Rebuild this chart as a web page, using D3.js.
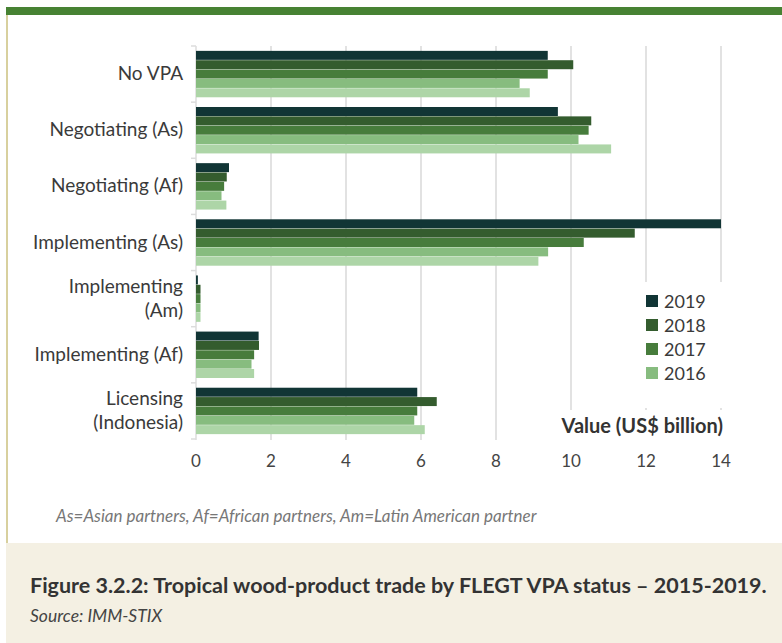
<!DOCTYPE html>
<html>
<head>
<meta charset="utf-8">
<script src="https://cdn.jsdelivr.net/npm/d3@7"></script>
<style>
  body { margin: 0; background: #fff; }
  svg text { font-family: Lato, "Open Sans", sans-serif; }
</style>
</head>
<body>
<div id="mainContainer"><svg></svg></div>
<script>
const SVG_WIDTH = 782;
const SVG_HEIGHT = 643;

// Chart data
const categories = [
    ["No VPA"],
    ["Negotiating (As)"],
    ["Negotiating (Af)"],
    ["Implementing (As)"],
    ["Implementing", "(Am)"],
    ["Implementing (Af)"],
    ["Licensing", "(Indonesia)"]
];
const years = ["2019", "2018", "2017", "2016", "2015"];
const legendYears = ["2019", "2018", "2017", "2016"];
const values2019 = [9.38, 9.65, 0.88, 14.0, 0.05, 1.67, 5.90];
const values2018 = [10.06, 10.54, 0.82, 11.70, 0.12, 1.68, 6.42];
const values2017 = [9.38, 10.47, 0.75, 10.34, 0.12, 1.55, 5.90];
const values2016 = [8.63, 10.20, 0.68, 9.39, 0.12, 1.48, 5.82];
const values2015 = [8.90, 11.07, 0.81, 9.13, 0.12, 1.55, 6.10];
const xTicks = [0, 2, 4, 6, 8, 10, 12, 14];

const seriesValues = [values2019, values2018, values2017, values2016, values2015];
const colors = ["#113535", "#345c2e", "#477c3c", "#87bc7f", "#add5a7"];

const catKeys = categories.map(c => c.join(" "));
const rows = [];
catKeys.forEach((key, i) => {
    years.forEach((yr, j) => {
        rows.push({ cat: key, year: yr, value: seriesValues[j][i] });
    });
});

let svg = d3.select("#mainContainer").select("svg")
    .attr("width", SVG_WIDTH)
    .attr("height", SVG_HEIGHT);

// frame: top green band, left rule, beige footer
svg.append("rect").attr("x", 6).attr("y", 7).attr("width", SVG_WIDTH - 6).attr("height", 8).attr("fill", "#478233");
svg.append("rect").attr("x", 6).attr("y", 15).attr("width", 2).attr("height", 528).attr("fill", "#d8d09e");
svg.append("rect").attr("x", 6).attr("y", 543).attr("width", SVG_WIDTH - 6).attr("height", 100).attr("fill", "#f4f0e3");

const x = d3.scaleLinear().domain([0, 14]).range([196, 721]);
const y = d3.scaleBand().domain(catKeys).range([46, 439]).paddingInner(0.16).paddingOuter(0.08);
const yInner = d3.scaleBand().domain(years).range([0, y.bandwidth()]).padding(0.04);
const color = d3.scaleOrdinal().domain(years).range(colors);

// grid
svg.append("g").selectAll("line")
    .data(xTicks.slice(1))
    .enter().append("line")
    .attr("x1", d => x(d)).attr("x2", d => x(d))
    .attr("y1", 46).attr("y2", 440)
    .attr("stroke", "#e2e2e2").attr("stroke-width", 2);

// y axis line and boundary ticks
const step = y.step();
const boundaries = d3.range(catKeys.length + 1).map(i => 46 + i * step);
svg.append("line").attr("x1", 196).attr("x2", 196).attr("y1", 46).attr("y2", 440)
    .attr("stroke", "#dcdcdc").attr("stroke-width", 1.5);
svg.append("g").selectAll("line")
    .data(boundaries)
    .enter().append("line")
    .attr("x1", 191).attr("x2", 196)
    .attr("y1", d => d).attr("y2", d => d)
    .attr("stroke", "#dcdcdc").attr("stroke-width", 1.5);

// bars
svg.append("g").selectAll("rect")
    .data(rows)
    .enter().append("rect")
    .attr("x", x(0))
    .attr("y", d => y(d.cat) + yInner(d.year))
    .attr("width", d => x(d.value) - x(0))
    .attr("height", yInner.bandwidth())
    .attr("fill", d => color(d.year));

// category labels
svg.append("g").selectAll("text")
    .data(categories)
    .enter().append("text")
    .attr("text-anchor", "end")
    .attr("font-size", 19)
    .attr("fill", "#3a3a3a")
    .each(function (lines, i) {
        let node = d3.select(this);
        const cy = y(catKeys[i]) + y.bandwidth() / 2;
        const lh = 24;
        lines.forEach((ln, k) => {
            node.append("tspan")
                .attr("x", 183)
                .attr("y", cy + 6 + (k - (lines.length - 1) / 2) * lh)
                .text(ln);
        });
    });

// x axis tick labels
svg.append("g").selectAll("text")
    .data(xTicks)
    .enter().append("text")
    .attr("x", d => x(d))
    .attr("y", 467)
    .attr("text-anchor", "middle")
    .attr("font-size", 17)
    .attr("fill", "#444")
    .text(d => d);

// legend
let legend = svg.append("g");
legend.append("rect").attr("x", 632).attr("y", 282).attr("width", 100).attr("height", 126).attr("fill", "#fff");
legend.selectAll("g")
    .data(legendYears)
    .enter().append("g")
    .each(function (yr, i) {
        let node = d3.select(this);
        const ly = 301 + i * 24;
        node.append("rect").attr("x", 646).attr("y", ly - 6).attr("width", 12).attr("height", 12).attr("fill", color(yr));
        node.append("text").attr("x", 664).attr("y", ly + 7).attr("font-size", 18).attr("fill", "#3a3a3a").text(yr);
    });

// axis title
svg.append("rect").attr("x", 556).attr("y", 410).attr("width", 172).attr("height", 30).attr("fill", "#fff");
svg.append("text")
    .attr("x", 723).attr("y", 433)
    .attr("text-anchor", "end")
    .attr("font-size", 20).attr("font-weight", "bold")
    .attr("fill", "#333")
    .text("Value (US$ billion)");

// footnote
svg.append("text")
    .attr("x", 56).attr("y", 522)
    .attr("font-size", 17).attr("font-style", "italic")
    .attr("fill", "#777")
    .text("As=Asian partners, Af=African partners, Am=Latin American partner");

// caption
svg.append("text")
    .attr("x", 30).attr("y", 593)
    .attr("font-size", 21.5).attr("font-weight", "bold")
    .attr("fill", "#333")
    .text("Figure 3.2.2: Tropical wood-product trade by FLEGT VPA status – 2015-2019.");
svg.append("text")
    .attr("x", 30).attr("y", 622)
    .attr("font-size", 17.5).attr("font-style", "italic")
    .attr("fill", "#444")
    .text("Source: IMM-STIX");
</script>
</body>
</html>
